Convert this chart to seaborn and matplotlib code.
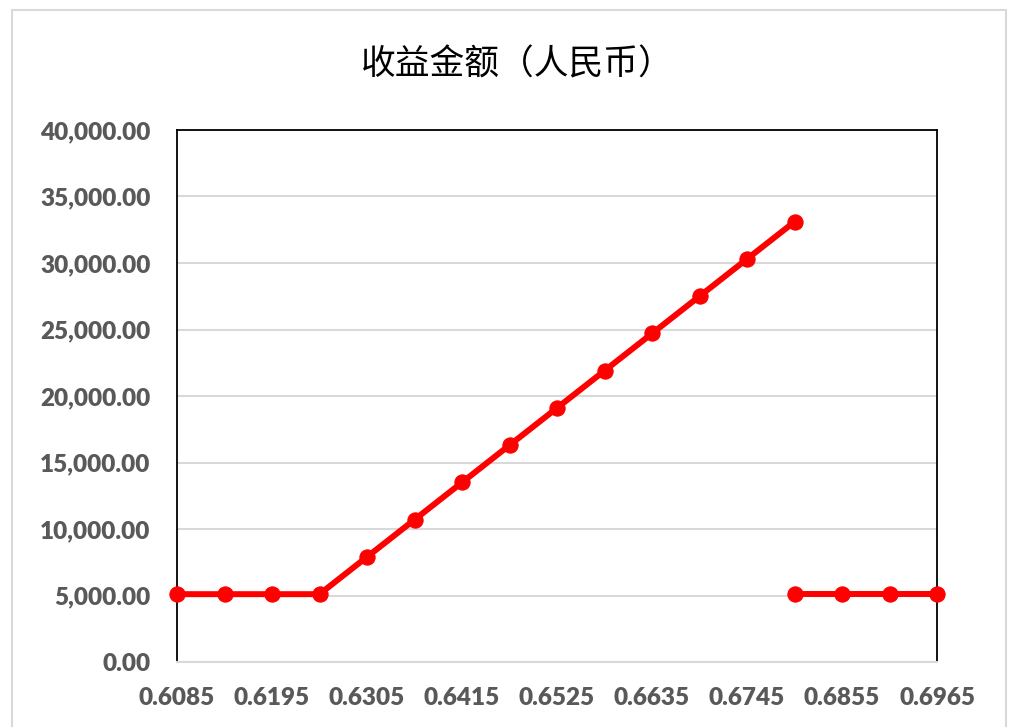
import matplotlib
matplotlib.use('Agg')
import matplotlib.pyplot as plt
from matplotlib.patches import Rectangle
from matplotlib.ticker import FuncFormatter, MultipleLocator
import pandas as pd
import seaborn as sns

# 汇率档位（横轴类别）
rates = ["0.6085", "0.6140", "0.6195", "0.6250", "0.6305", "0.6360", "0.6415",
         "0.6470", "0.6525", "0.6580", "0.6635", "0.6690", "0.6745", "0.6800",
         "0.6855", "0.6910", "0.6965"]
# 两段收益曲线：前段到 0.6800，后段从 0.6800 起
rise_values = [5100, 5100, 5100, 5100, 7900, 10700, 13500, 16300, 19100,
               21900, 24700, 27500, 30300, 33100]
flat_values = [5100, 5100, 5100, 5100]
title = "收益金额（人民币）"

sns.set_theme(style="white")
plt.rcParams['font.family'] = ['Lato', 'DejaVu Sans']

rows = []
for i, v in enumerate(rise_values):
    rows.append({'pos': i, 'value': v, 'seg': 'a'})
start = len(rise_values) - 1
for i, v in enumerate(flat_values):
    rows.append({'pos': start + i, 'value': v, 'seg': 'b'})
df = pd.DataFrame(rows)

fig = plt.figure(figsize=(10.09, 7.27), dpi=100)
ax = fig.add_axes([177 / 1009, 65 / 727, 760 / 1009, 532 / 727])

sns.lineplot(data=df, x='pos', y='value', hue='seg', palette=['#ff0000', '#ff0000'],
             marker='o', markersize=11, markeredgecolor='#ff0000', linewidth=4.3,
             legend=False, ax=ax, clip_on=False, zorder=5)

ax.set_xlim(0, len(rates) - 1)
ax.set_ylim(0, 40000)
ax.yaxis.set_major_locator(MultipleLocator(5000))
ax.yaxis.set_major_formatter(FuncFormatter(lambda v, p: f"{v:,.2f}"))
ax.set_xticks(range(0, len(rates), 2))
ax.set_xticklabels(rates[::2])
ax.grid(axis='y', color='#d9d9d9', linewidth=1.5)
ax.grid(axis='x', visible=False)
ax.set_xlabel('')
ax.set_ylabel('')
ax.tick_params(axis='both', length=0, labelsize=17.5, labelcolor='#595959')
ax.tick_params(axis='y', pad=19)
ax.tick_params(axis='x', pad=18)
for lab in ax.get_xticklabels() + ax.get_yticklabels():
    lab.set_fontweight('heavy')

for side in ['left', 'top', 'right']:
    ax.spines[side].set_color('black')
    ax.spines[side].set_linewidth(1.3)
ax.spines['bottom'].set_color('#d9d9d9')
ax.spines['bottom'].set_linewidth(1.5)

fig.text(517 / 1009, 1 - 65 / 727, title, ha='center', va='center', fontsize=25,
         color='black', family=['Noto Sans CJK SC', 'DejaVu Sans'])

# 图表外框
fig.patches.append(Rectangle((12 / 1009, -0.05), 994 / 1009, 1.05 - 10 / 727,
                             transform=fig.transFigure, fill=False,
                             edgecolor='#d9d9d9', linewidth=1.5))

fig.savefig('out.png', dpi=100)
